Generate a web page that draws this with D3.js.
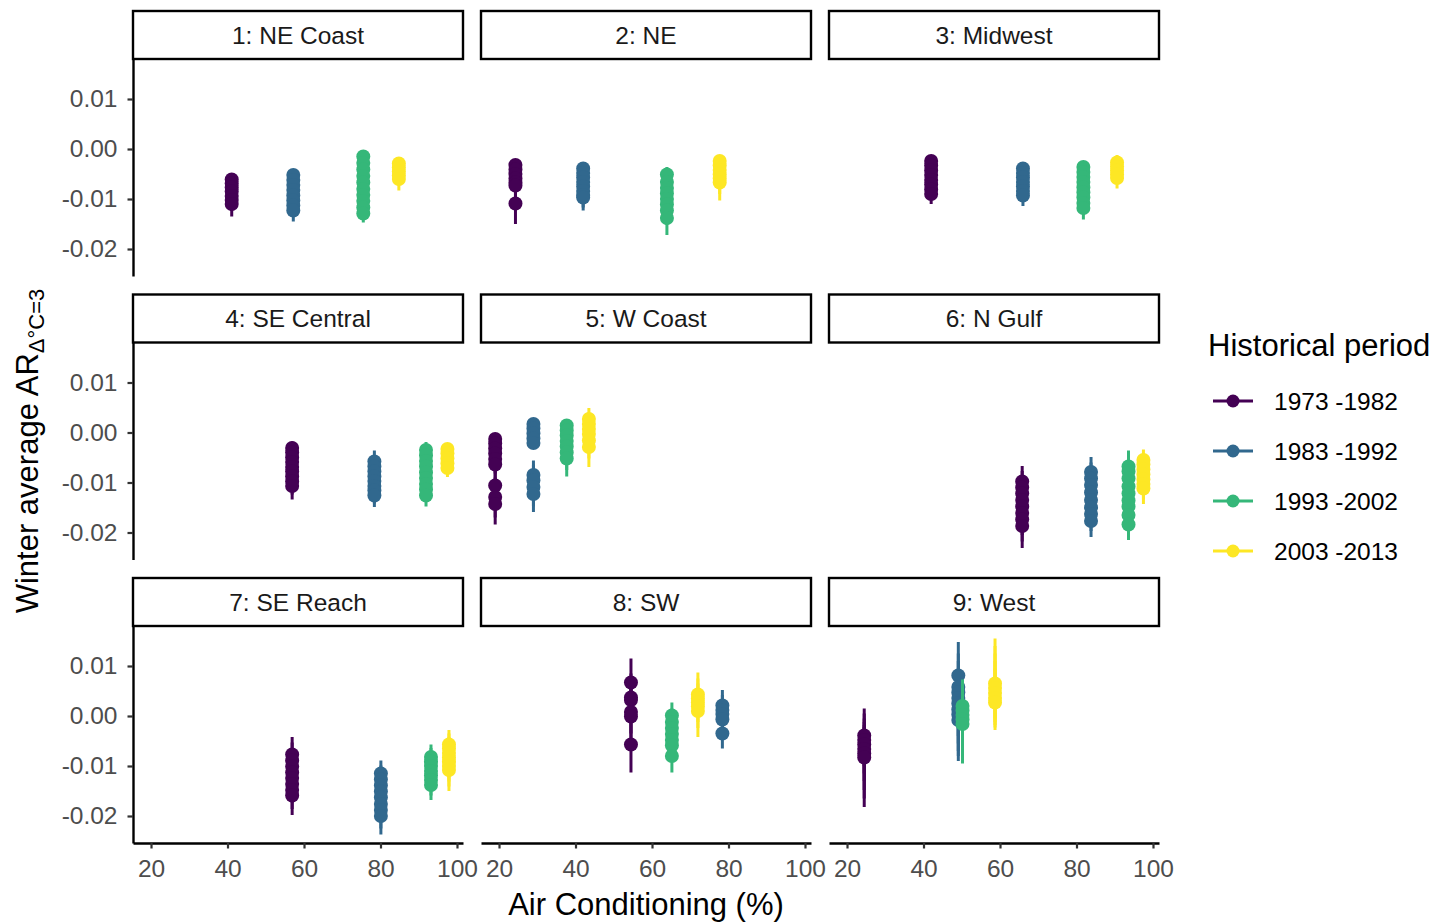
<!DOCTYPE html>
<html>
<head>
<meta charset="utf-8">
<script src="https://cdn.jsdelivr.net/npm/d3@7"></script>
<style>
  body { margin: 0; background: #fff; }
  svg { display: block; font-family: "Liberation Sans", Arial, Helvetica, sans-serif; }
</style>
</head>
<body>
<svg id="chart" width="1439" height="923"></svg>
<script>
// Census regions shown as facets (row by row)
const regionNames = [
  "1: NE Coast", "2: NE", "3: Midwest",
  "4: SE Central", "5: W Coast", "6: N Gulf",
  "7: SE Reach", "8: SW", "9: West"
];

// Historical periods and their viridis colours
const periodLabels = ["1973 -1982", "1983 -1992", "1993 -2002", "2003 -2013"];
const periodColors = ["#440154", "#31688E", "#35B779", "#FDE725"];

// Air-conditioning prevalence (%) per region, one value per period
const acShare = [
  [41.1, 57.2, 75.5, 84.8],
  [24.3, 42.0, 63.9, 77.7],
  [42.0, 66.0, 81.8, 90.6],
  [56.9, 78.4, 91.9, 97.5],
  [19.0, 29.0, 37.7, 43.5],
  [65.8, 83.8, 93.6, 97.5],
  [56.9, 80.1, 93.2, 97.9],
  [54.5, 78.4, 65.2, 72.0],
  [24.5, 49.1, 50.2, 58.7]
];

// Estimates per period: [estimate, lower, upper]
const neCoast = [
  [[-0.0061,-0.0072,-0.0052],[-0.0069,-0.0083,-0.0058],[-0.0077,-0.0093,-0.0064],[-0.0085,-0.0103,-0.0070],[-0.0094,-0.0115,-0.0076],[-0.0102,-0.0124,-0.0083],[-0.0110,-0.0135,-0.0088]],
  [[-0.0052,-0.0067,-0.0046],[-0.0062,-0.0078,-0.0052],[-0.0072,-0.0090,-0.0060],[-0.0082,-0.0101,-0.0068],[-0.0093,-0.0113,-0.0076],[-0.0103,-0.0124,-0.0085],[-0.0113,-0.0135,-0.0093],[-0.0123,-0.0145,-0.0102]],
  [[-0.0015,-0.0030,-0.0011],[-0.0028,-0.0045,-0.0020],[-0.0041,-0.0060,-0.0030],[-0.0054,-0.0075,-0.0040],[-0.0067,-0.0088,-0.0052],[-0.0080,-0.0100,-0.0064],[-0.0092,-0.0113,-0.0075],[-0.0104,-0.0125,-0.0087],[-0.0117,-0.0137,-0.0099],[-0.0129,-0.0147,-0.0110]],
  [[-0.0029,-0.0040,-0.0025],[-0.0037,-0.0050,-0.0031],[-0.0045,-0.0062,-0.0037],[-0.0053,-0.0073,-0.0043],[-0.0060,-0.0083,-0.0049]]
];
const ne = [
  [[-0.0032,-0.0042,-0.0027],[-0.0041,-0.0055,-0.0034],[-0.0050,-0.0066,-0.0041],[-0.0059,-0.0078,-0.0048],[-0.0067,-0.0088,-0.0055],[-0.0073,-0.0096,-0.0060],[-0.0109,-0.0150,-0.0086]],
  [[-0.0039,-0.0050,-0.0035],[-0.0048,-0.0062,-0.0041],[-0.0057,-0.0074,-0.0047],[-0.0066,-0.0086,-0.0054],[-0.0075,-0.0097,-0.0061],[-0.0084,-0.0108,-0.0068],[-0.0092,-0.0117,-0.0074],[-0.0097,-0.0123,-0.0078]],
  [[-0.0051,-0.0068,-0.0036],[-0.0066,-0.0085,-0.0050],[-0.0078,-0.0099,-0.0060],[-0.0089,-0.0112,-0.0070],[-0.0100,-0.0125,-0.0080],[-0.0111,-0.0138,-0.0089],[-0.0123,-0.0152,-0.0098],[-0.0138,-0.0172,-0.0110]],
  [[-0.0024,-0.0036,-0.0020],[-0.0033,-0.0050,-0.0027],[-0.0042,-0.0064,-0.0033],[-0.0051,-0.0077,-0.0039],[-0.0059,-0.0090,-0.0044],[-0.0067,-0.0103,-0.0050]]
];
const midwest = [
  [[-0.0024,-0.0036,-0.0020],[-0.0033,-0.0048,-0.0027],[-0.0043,-0.0060,-0.0034],[-0.0052,-0.0071,-0.0041],[-0.0062,-0.0082,-0.0049],[-0.0071,-0.0092,-0.0056],[-0.0081,-0.0102,-0.0064],[-0.0090,-0.0110,-0.0072]],
  [[-0.0039,-0.0052,-0.0035],[-0.0048,-0.0063,-0.0041],[-0.0057,-0.0074,-0.0048],[-0.0066,-0.0085,-0.0055],[-0.0075,-0.0095,-0.0062],[-0.0084,-0.0105,-0.0069],[-0.0093,-0.0114,-0.0076]],
  [[-0.0036,-0.0050,-0.0032],[-0.0046,-0.0062,-0.0038],[-0.0056,-0.0074,-0.0045],[-0.0066,-0.0086,-0.0052],[-0.0077,-0.0098,-0.0060],[-0.0087,-0.0110,-0.0068],[-0.0097,-0.0120,-0.0076],[-0.0108,-0.0131,-0.0085],[-0.0118,-0.0141,-0.0094]],
  [[-0.0027,-0.0040,-0.0012],[-0.0035,-0.0050,-0.0020],[-0.0043,-0.0060,-0.0027],[-0.0051,-0.0070,-0.0034],[-0.0058,-0.0079,-0.0040]]
];
const seCentral = [
  [[-0.0031,-0.0048,-0.0018],[-0.0040,-0.0059,-0.0026],[-0.0050,-0.0070,-0.0034],[-0.0059,-0.0081,-0.0042],[-0.0069,-0.0092,-0.0050],[-0.0078,-0.0103,-0.0058],[-0.0088,-0.0114,-0.0066],[-0.0098,-0.0124,-0.0074],[-0.0107,-0.0134,-0.0082]],
  [[-0.0058,-0.0078,-0.0036],[-0.0068,-0.0090,-0.0046],[-0.0078,-0.0102,-0.0055],[-0.0088,-0.0113,-0.0064],[-0.0097,-0.0124,-0.0072],[-0.0107,-0.0135,-0.0081],[-0.0116,-0.0142,-0.0090],[-0.0126,-0.0149,-0.0100]],
  [[-0.0035,-0.0052,-0.0019],[-0.0046,-0.0065,-0.0029],[-0.0057,-0.0078,-0.0039],[-0.0068,-0.0090,-0.0048],[-0.0080,-0.0103,-0.0058],[-0.0091,-0.0115,-0.0068],[-0.0103,-0.0127,-0.0078],[-0.0114,-0.0138,-0.0089],[-0.0126,-0.0148,-0.0100]],
  [[-0.0033,-0.0045,-0.0029],[-0.0042,-0.0057,-0.0035],[-0.0052,-0.0069,-0.0042],[-0.0062,-0.0080,-0.0049],[-0.0071,-0.0089,-0.0056]]
];
const wCoast = [
  [[-0.0013,-0.0030,-0.0008],[-0.0022,-0.0042,-0.0014],[-0.0032,-0.0055,-0.0020],[-0.0042,-0.0068,-0.0026],[-0.0053,-0.0082,-0.0032],[-0.0064,-0.0095,-0.0038],[-0.0106,-0.0150,-0.0070],[-0.0129,-0.0170,-0.0090],[-0.0143,-0.0184,-0.0101]],
  [[0.0017,-0.0005,0.0022],[0.0008,-0.0012,0.0015],[-0.0002,-0.0018,0.0008],[-0.0012,-0.0022,0.0002],[-0.0021,-0.0028,-0.0008],[-0.0085,-0.0120,-0.0056],[-0.0096,-0.0135,-0.0064],[-0.0109,-0.0148,-0.0072],[-0.0123,-0.0159,-0.0082]],
  [[0.0014,-0.0005,0.0018],[0.0004,-0.0018,0.0010],[-0.0006,-0.0032,0.0003],[-0.0017,-0.0048,-0.0004],[-0.0028,-0.0062,-0.0012],[-0.0040,-0.0075,-0.0020],[-0.0052,-0.0088,-0.0028]],
  [[0.0027,0.0002,0.0049],[0.0017,-0.0010,0.0040],[0.0007,-0.0022,0.0032],[-0.0003,-0.0035,0.0024],[-0.0016,-0.0052,0.0014],[-0.0029,-0.0069,0.0004]]
];
const nGulf = [
  [[-0.0098,-0.0130,-0.0067],[-0.0110,-0.0145,-0.0077],[-0.0122,-0.0160,-0.0087],[-0.0135,-0.0175,-0.0098],[-0.0148,-0.0190,-0.0108],[-0.0161,-0.0205,-0.0118],[-0.0174,-0.0218,-0.0128],[-0.0187,-0.0231,-0.0140]],
  [[-0.0079,-0.0110,-0.0049],[-0.0092,-0.0125,-0.0060],[-0.0105,-0.0140,-0.0071],[-0.0120,-0.0155,-0.0083],[-0.0135,-0.0170,-0.0097],[-0.0150,-0.0185,-0.0110],[-0.0163,-0.0197,-0.0122],[-0.0177,-0.0209,-0.0135]],
  [[-0.0068,-0.0100,-0.0036],[-0.0078,-0.0112,-0.0045],[-0.0092,-0.0127,-0.0058],[-0.0108,-0.0143,-0.0072],[-0.0122,-0.0158,-0.0086],[-0.0136,-0.0172,-0.0100],[-0.0148,-0.0184,-0.0111],[-0.0165,-0.0200,-0.0128],[-0.0184,-0.0215,-0.0148]],
  [[-0.0055,-0.0080,-0.0034],[-0.0064,-0.0091,-0.0041],[-0.0074,-0.0103,-0.0049],[-0.0084,-0.0114,-0.0057],[-0.0094,-0.0124,-0.0065],[-0.0103,-0.0134,-0.0073],[-0.0112,-0.0143,-0.0080]]
];
const seReach = [
  [[-0.0077,-0.0110,-0.0042],[-0.0089,-0.0123,-0.0053],[-0.0101,-0.0136,-0.0065],[-0.0113,-0.0149,-0.0076],[-0.0124,-0.0161,-0.0087],[-0.0136,-0.0173,-0.0098],[-0.0148,-0.0186,-0.0109],[-0.0159,-0.0198,-0.0120]],
  [[-0.0115,-0.0145,-0.0089],[-0.0127,-0.0160,-0.0099],[-0.0139,-0.0174,-0.0109],[-0.0151,-0.0188,-0.0119],[-0.0163,-0.0200,-0.0130],[-0.0176,-0.0213,-0.0141],[-0.0188,-0.0225,-0.0152],[-0.0200,-0.0237,-0.0163]],
  [[-0.0082,-0.0110,-0.0057],[-0.0091,-0.0120,-0.0064],[-0.0100,-0.0130,-0.0072],[-0.0110,-0.0140,-0.0080],[-0.0119,-0.0150,-0.0088],[-0.0128,-0.0159,-0.0096],[-0.0138,-0.0168,-0.0104]],
  [[-0.0057,-0.0090,-0.0028],[-0.0065,-0.0100,-0.0035],[-0.0074,-0.0111,-0.0042],[-0.0083,-0.0122,-0.0049],[-0.0091,-0.0131,-0.0056],[-0.0100,-0.0141,-0.0062],[-0.0108,-0.0150,-0.0069]]
];
const sw = [
  [[0.0067,0.0025,0.0115],[0.0037,-0.0005,0.0085],[0.0032,-0.0010,0.0080],[0.0008,-0.0035,0.0055],[-0.0001,-0.0045,0.0045],[-0.0057,-0.0113,-0.0005]],
  [[0.0021,-0.0008,0.0052],[0.0012,-0.0018,0.0042],[0.0004,-0.0027,0.0034],[-0.0007,-0.0038,0.0024],[-0.0035,-0.0065,-0.0005]],
  [[0.0001,-0.0028,0.0027],[-0.0012,-0.0042,0.0015],[-0.0024,-0.0055,0.0004],[-0.0036,-0.0068,-0.0006],[-0.0048,-0.0080,-0.0016],[-0.0059,-0.0092,-0.0026],[-0.0080,-0.0113,-0.0046]],
  [[0.0043,0.0010,0.0087],[0.0035,0.0000,0.0075],[0.0027,-0.0012,0.0065],[0.0019,-0.0024,0.0055],[0.0010,-0.0042,0.0045]]
];
const west = [
  [[-0.0039,-0.0100,0.0015],[-0.0048,-0.0115,0.0005],[-0.0057,-0.0130,-0.0005],[-0.0066,-0.0148,-0.0012],[-0.0075,-0.0165,-0.0018],[-0.0083,-0.0182,-0.0022]],
  [[0.0081,0.0020,0.0148],[0.0058,-0.0010,0.0125],[0.0047,-0.0025,0.0110],[0.0036,-0.0040,0.0095],[0.0025,-0.0055,0.0085],[0.0013,-0.0070,0.0075],[0.0003,-0.0080,0.0068],[-0.0008,-0.0090,0.0060]],
  [[0.0020,-0.0050,0.0073],[0.0011,-0.0062,0.0065],[0.0002,-0.0075,0.0058],[-0.0007,-0.0085,0.0050],[-0.0016,-0.0095,0.0042]],
  [[0.0065,-0.0005,0.0155],[0.0056,-0.0012,0.0140],[0.0046,-0.0018,0.0125],[0.0036,-0.0023,0.0110],[0.0027,-0.0028,0.0095]]
];
const estimatesByRegion = [neCoast, ne, midwest, seCentral, wCoast, nGulf, seReach, sw, west];

// Axis ticks
const xTicks = [20, 40, 60, 80, 100];
const yTicks = [-0.02, -0.01, 0.00, 0.01];

// ---- layout ----
const svg = d3.select("#chart");
const colLeft = 133, colStep = 348, panelW = 330;
const rowTop = 11, rowStep = 283.5, stripH = 48, panelH = 217;
const xDomain = [15.29, 101.57];
const yDomain = [-0.0254, 0.018];
const tickFont = 24.5, titleFont = 31;
const axisStroke = 2.4;
const pointR = 7;

regionNames.forEach((name, i) => {
  const r = Math.floor(i / 3), c = i % 3;
  const x0 = colLeft + c * colStep;
  const sTop = rowTop + r * rowStep;
  const pTop = sTop + stripH;

  const x = d3.scaleLinear().domain(xDomain).range([x0, x0 + panelW]);
  const y = d3.scaleLinear().domain(yDomain).range([pTop + panelH, pTop]);

  const g = svg.append("g").attr("class", "panel");

  // facet strip
  g.append("rect")
    .attr("x", x0).attr("y", sTop).attr("width", panelW).attr("height", stripH)
    .attr("fill", "#fff").attr("stroke", "#000").attr("stroke-width", axisStroke);
  g.append("text")
    .attr("x", x0 + panelW / 2).attr("y", sTop + stripH / 2 + 8.8)
    .attr("text-anchor", "middle").attr("font-size", tickFont).attr("fill", "#1a1a1a")
    .text(name);

  // left axis on the first column
  if (c === 0) {
    const ay = g.append("g").attr("transform", `translate(${x0},0)`)
      .call(d3.axisLeft(y).tickValues(yTicks).tickFormat(d => d.toFixed(2))
        .tickSize(5.5).tickSizeOuter(0).tickPadding(10));
    styleAxis(ay);
  }
  // bottom axis on the last row
  if (r === 2) {
    const ax = g.append("g").attr("transform", `translate(0,${pTop + panelH})`)
      .call(d3.axisBottom(x).tickValues(xTicks).tickFormat(d3.format("d"))
        .tickSize(5.5).tickSizeOuter(0).tickPadding(11));
    styleAxis(ax);
  }

  // point ranges, one layer per period
  estimatesByRegion[i].forEach((rows, p) => {
    const ac = acShare[i][p];
    const layer = g.append("g").attr("class", "period-" + p);
    layer.selectAll("line").data(rows).join("line")
      .attr("x1", x(ac)).attr("x2", x(ac))
      .attr("y1", d => y(d[1])).attr("y2", d => y(d[2]))
      .attr("stroke", periodColors[p]).attr("stroke-width", 3);
    layer.selectAll("circle").data(rows).join("circle")
      .attr("cx", x(ac)).attr("cy", d => y(d[0])).attr("r", pointR)
      .attr("fill", periodColors[p]);
  });
});

function styleAxis(sel) {
  sel.select(".domain").attr("stroke", "#000").attr("stroke-width", axisStroke);
  sel.selectAll(".tick line").attr("stroke", "#333").attr("stroke-width", 2.2);
  sel.selectAll(".tick text").attr("fill", "#4d4d4d").attr("font-size", tickFont)
    .attr("font-family", "Liberation Sans, Arial, sans-serif");
}

// axis titles
svg.append("text")
  .attr("x", 646).attr("y", 915).attr("text-anchor", "middle")
  .attr("font-size", titleFont).attr("fill", "#000")
  .text("Air Conditioning (%)");

const yTitle = svg.append("text")
  .attr("transform", "translate(38,451) rotate(-90)")
  .attr("text-anchor", "middle").attr("font-size", titleFont).attr("fill", "#000");
yTitle.append("tspan").text("Winter average AR");
yTitle.append("tspan").attr("font-size", 22).attr("dy", 6).text("Δ°C=3");

// legend
const legend = svg.append("g").attr("class", "legend");
legend.append("text")
  .attr("x", 1208).attr("y", 356).attr("font-size", titleFont).attr("fill", "#000")
  .text("Historical period");
const items = legend.selectAll("g.item").data(periodLabels).join("g")
  .attr("class", "item")
  .attr("transform", (d, k) => `translate(0,${401 + k * 50})`);
items.append("line")
  .attr("x1", 1213).attr("x2", 1253).attr("y1", 0).attr("y2", 0)
  .attr("stroke", (d, k) => periodColors[k]).attr("stroke-width", 3);
items.append("circle")
  .attr("cx", 1233).attr("cy", 0).attr("r", 6.5)
  .attr("fill", (d, k) => periodColors[k]);
items.append("text")
  .attr("x", 1274).attr("y", 8.8).attr("font-size", tickFont).attr("fill", "#000")
  .text(d => d);
</script>
</body>
</html>
